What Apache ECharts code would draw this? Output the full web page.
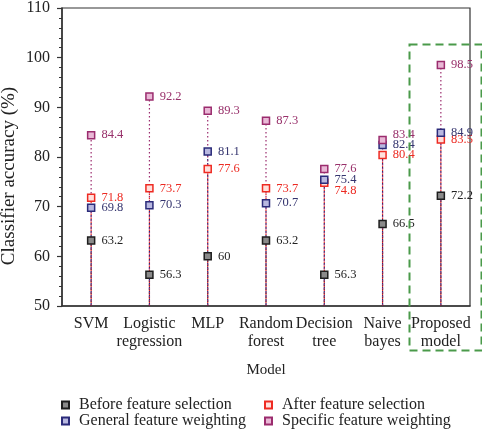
<!DOCTYPE html>
<html><head><meta charset="utf-8">
<script src="https://cdn.jsdelivr.net/npm/echarts@6/dist/echarts.min.js"></script>
<style>html,body{margin:0;padding:0;background:#fff}#c{width:482px;height:437px}</style>
</head><body><div id="c"></div>
<script>
const categories = ['SVM', 'Logistic\nregression', 'MLP', 'Random\nforest', 'Decision\ntree', 'Naive\nbayes', 'Proposed\nmodel'];
const beforeSel = [63.2, 56.3, 60, 63.2, 56.3, 66.5, 72.2];
const afterSel = [71.8, 73.7, 77.6, 73.7, 74.8, 80.4, 83.5];
const generalW = [69.8, 70.3, 81.1, 70.7, 75.4, 82.4, 84.9];
const specificW = [84.4, 92.2, 89.3, 87.3, 77.6, 83.4, 98.5];
const yTicks = [50, 60, 70, 80, 90, 100, 110];

const FONT = '"Liberation Serif", "DejaVu Serif", serif';
const seriesDefs = [
  {name: 'Before feature selection', data: beforeSel, border: '#1e1e1e', fill: '#8a8a8a', label: '#222222'},
  {name: 'After feature selection', data: afterSel, border: '#ee2a22', fill: '#ffe0dc', label: '#ec2a22'},
  {name: 'General feature weighting', data: generalW, border: '#2b2b7a', fill: '#b8b8e0', label: '#34346e'},
  {name: 'Specific feature weighting', data: specificW, border: '#9b2c6e', fill: '#e9b8d6', label: '#98306a'}
];
// label nudges (pixels) for overlapping labels: [seriesIndex, categoryIndex, dy]
const labelNudges = [[1, 4, 8], [3, 5, -5]];

const stems = seriesDefs.map((s, si) => ({
  type: 'custom', name: s.name + ' stem', silent: true, z: 1,
  data: s.data.map((v, i) => [i, v]),
  renderItem: function (params, api) {
    const top = api.coord([api.value(0), api.value(1)]);
    const base = api.coord([api.value(0), 50]);
    return {type: 'line', shape: {x1: top[0], y1: base[1], x2: top[0], y2: top[1]},
      style: {stroke: s.border, lineWidth: 1.2, lineDash: [1.5, 2.5], lineDashOffset: si * 1.2}};
  }
}));
const marks = seriesDefs.map((s, si) => ({
  type: 'scatter', name: s.name, symbol: 'rect', symbolSize: 7, z: 3,
  itemStyle: {color: s.fill, borderColor: s.border, borderWidth: 1.5, opacity: 1},
  label: {show: true, position: 'right', distance: 6, color: s.label, fontFamily: FONT, fontSize: 12.5,
    formatter: p => String(p.value[1])},
  data: s.data.map((v, i) => {
    const n = labelNudges.find(t => t[0] === si && t[1] === i);
    const d = {value: [i, v]};
    if (n) d.label = {offset: [0, n[2]]};
    return d;
  })
}));

const legendText = {fontFamily: FONT, fontSize: 16, color: '#222', lineHeight: 16, padding: [0, 0, 0, 5]};
const chart = echarts.init(document.getElementById('c'), null, {renderer: 'canvas'});
chart.setOption({
  animation: false,
  textStyle: {fontFamily: FONT},
  grid: {left: 62, right: 12, top: 6, bottom: 131, show: true, borderColor: '#333', borderWidth: 1.2},
  xAxis: {
    type: 'category', data: categories, boundaryGap: true,
    name: 'Model', nameLocation: 'middle', nameGap: 57,
    nameTextStyle: {fontFamily: FONT, fontSize: 15, color: '#222'},
    axisLine: {lineStyle: {color: '#333', width: 1.5}},
    axisTick: {alignWithLabel: true, length: 5, lineStyle: {color: '#333', width: 1.2}},
    axisLabel: {fontFamily: FONT, fontSize: 16, color: '#222', margin: 9, lineHeight: 18, interval: 0},
    splitLine: {show: false}
  },
  yAxis: {
    type: 'value', min: 50, max: 110, interval: 10,
    axisLine: {show: true, lineStyle: {color: '#333', width: 1.5}},
    axisTick: {show: true, length: 5, lineStyle: {color: '#333', width: 1.2}},
    minorTick: {show: true, splitNumber: 5, length: 3, lineStyle: {color: '#333', width: 1}},
    axisLabel: {fontFamily: FONT, fontSize: 16, color: '#222', margin: 12,
      formatter: v => yTicks.includes(v) ? String(v) : ''},
    splitLine: {show: false}
  },
  legend: [
    {data: [seriesDefs[0].name, seriesDefs[2].name], orient: 'vertical', left: 56, top: 392, itemGap: 0,
      icon: 'rect', itemWidth: 7, itemHeight: 7, textStyle: legendText},
    {data: [seriesDefs[1].name, seriesDefs[3].name], orient: 'vertical', left: 259, top: 392, itemGap: 0,
      icon: 'rect', itemWidth: 7, itemHeight: 7, textStyle: legendText}
  ],
  graphic: [{
    type: 'rect', z: 10, silent: true,
    shape: {x: 409.5, y: 44.5, width: 72, height: 306},
    style: {fill: 'none', stroke: '#4a9a4a', lineWidth: 2, lineDash: [8, 5]}
  }, {
    type: 'text', x: 9, y: 176, rotation: Math.PI / 2, silent: true,
    style: {text: 'Classifier accuracy (%)', fontFamily: FONT, fontSize: 19, fill: '#222',
      align: 'center', verticalAlign: 'middle'}
  }],
  series: stems.concat(marks)
});
</script></body></html>
